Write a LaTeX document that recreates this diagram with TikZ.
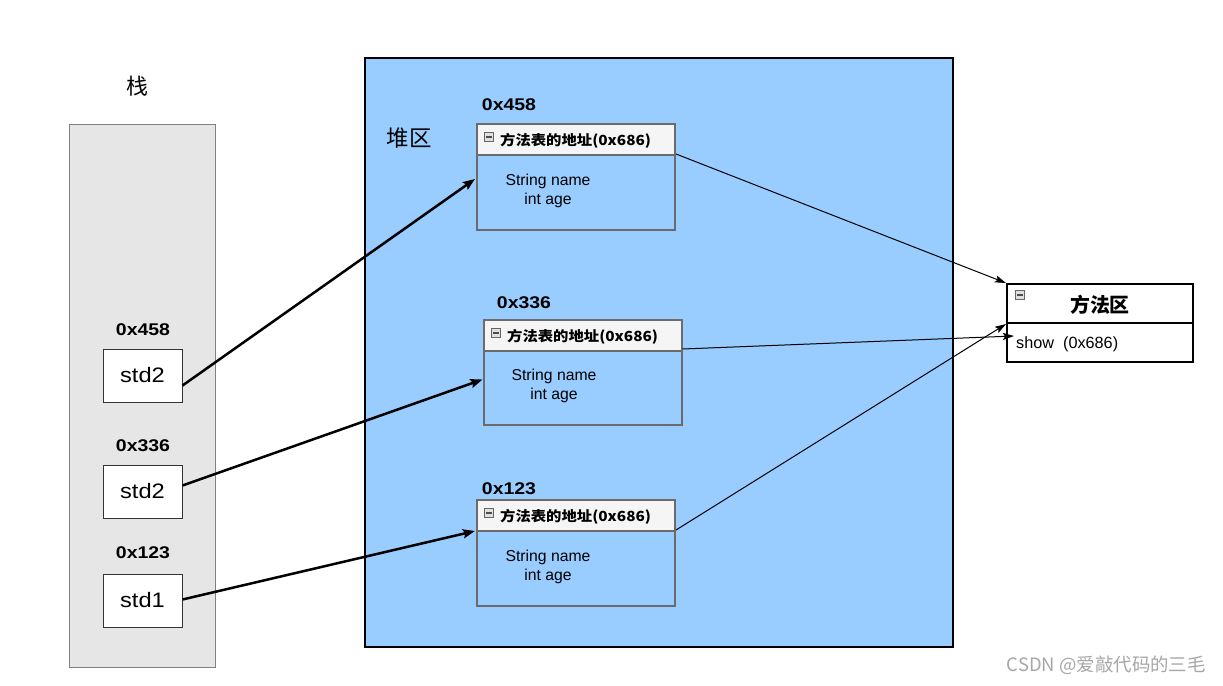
\documentclass[tikz,border=0pt]{standalone}
\usepackage{fontspec}
\setmainfont{Liberation Sans}
\newfontfamily\cjk{Noto Sans CJK SC}
\usetikzlibrary{arrows.meta,calc}
\definecolor{heapblue}{HTML}{99CCFF}
\definecolor{stackgray}{HTML}{E6E6E6}
\definecolor{objgray}{HTML}{6B6B6B}
\definecolor{hdrgray}{HTML}{F5F5F5}
\newcommand{\wideit}[1]{\scalebox{1.15}[1]{#1}}
\tikzset{
  stdbox/.style={draw=black!80,fill=white,line width=1bp,minimum width=79bp,minimum height=53bp,inner sep=0pt,font=\fontsize{21}{23}\selectfont},
  addr/.style={font=\bfseries\fontsize{17}{19}\selectfont},
  objhdr/.style={draw=objgray,fill=hdrgray,line width=2bp,minimum width=198bp,minimum height=31bp,inner sep=0pt},
  objbody/.style={draw=objgray,fill=heapblue,line width=2bp,minimum width=198bp,minimum height=75bp,inner sep=0pt},
  hdrtxt/.style={font=\bfseries\cjk\fontsize{14}{16}\selectfont,anchor=west,inner sep=0pt},
  bodytxt/.style={font=\fontsize{15.8}{18}\selectfont,inner sep=0pt},
  minus/.style={draw=gray!80!black,fill=gray!25,minimum width=9bp,minimum height=9bp,inner sep=0pt,line width=0.6bp,
    path picture={\draw[black!70,line width=1.4bp] ([xshift=1.5bp]path picture bounding box.west) -- ([xshift=-1.5bp]path picture bounding box.east);}},
  bigarrow/.style={-{Stealth[length=12bp,width=9bp,inset=2bp]},line width=2.5bp},
  thinarrow/.style={-{Stealth[length=11bp,width=7bp,inset=2bp]},line width=1bp},
}
\begin{document}
\begin{tikzpicture}[x=1bp,y=-1bp]
\useasboundingbox (0,0) rectangle (1223,686);
% stack
\node[font=\cjk\fontsize{22}{24}\selectfont] (stacklbl) at (137,86) {栈};
\node[draw=gray,fill=stackgray,line width=1bp,minimum width=145bp,minimum height=542bp,inner sep=0pt] (stack) at (142.5,396) {};
\node[addr] (a1) at (143,330) {\wideit{0x458}};
\node[stdbox] (s1) at (142.5,375.5) {\scalebox{1.13}[1]{std2}};
\node[addr] (a2) at (143,446) {\wideit{0x336}};
\node[stdbox] (s2) at (142.5,491.5) {\scalebox{1.13}[1]{std2}};
\node[addr] (a3) at (143,553) {\wideit{0x123}};
\node[stdbox] (s3) at (142.5,600.5) {\scalebox{1.13}[1]{std1}};
% heap
\node[draw=black,fill=heapblue,line width=2bp,minimum width=588bp,minimum height=589bp,inner sep=0pt] (heap) at (659,352.5) {};
\node[font=\cjk\fontsize{22.5}{24}\selectfont] (heaplbl) at (409,138) {堆区};
% object 1
\node[addr] (o1a) at (509,105) {\wideit{0x458}};
\node[objbody] (o1b) at (576,192) {};
\node[objhdr] (o1h) at (576,139.5) {};
\node[minus] (o1m) at (489,137) {};
\node[hdrtxt] (o1t) at (500,141) {\scalebox{1.1}[1]{方法表的地址(0x686)}};
\node[bodytxt] (o1s) at (548,181) {String name};
\node[bodytxt] (o1i) at (548,200) {int age};
% object 2
\node[addr] (o2a) at (524,303) {\wideit{0x336}};
\node[objbody] (o2b) at (582.5,387.5) {};
\node[objhdr] (o2h) at (582.5,335.5) {};
\node[minus] (o2m) at (496,333) {};
\node[hdrtxt] (o2t) at (507,337) {\scalebox{1.1}[1]{方法表的地址(0x686)}};
\node[bodytxt] (o2s) at (554,376) {String name};
\node[bodytxt] (o2i) at (554,395) {int age};
% object 3
\node[addr] (o3a) at (509,489) {\wideit{0x123}};
\node[objbody] (o3b) at (576,568) {};
\node[objhdr] (o3h) at (576,515.5) {};
\node[minus] (o3m) at (489,513) {};
\node[hdrtxt] (o3t) at (500,517) {\scalebox{1.1}[1]{方法表的地址(0x686)}};
\node[bodytxt] (o3s) at (548,557) {String name};
\node[bodytxt] (o3i) at (548,576) {int age};
% method area
\node[draw=black,fill=white,line width=2bp,minimum width=186bp,minimum height=39bp,inner sep=0pt] (mbody) at (1100,342.5) {};
\node[draw=black,fill=white,line width=2bp,minimum width=186bp,minimum height=39bp,inner sep=0pt] (mhdr) at (1100,303.5) {};
\node[minus] (mm) at (1020,295) {};
\node[font=\bfseries\cjk\fontsize{20}{22}\selectfont] (mtitle) at (1100,305) {方法区};
\node[font=\fontsize{16.3}{18}\selectfont,anchor=west,inner sep=0pt] (mshow) at (1016,344) {show\ \ (0x686)};
% arrows
\draw[bigarrow] ($(s1.east)+(0,10)$) -- ($(o1b.west)+(-1,-13)$);
\draw[bigarrow] ($(s2.east)+(0,-6)$) -- ($(o2b.west)+(0,-8)$);
\draw[bigarrow] ($(s3.east)+(0,-1)$) -- ($(o3h.south west)+(-1,-1)$);
\draw[thinarrow] ($(o1h.south east)+(0,-2)$) -- (mhdr.north west);
\draw[thinarrow] ($(o2h.south east)+(0,-3)$) -- ($(mbody.north west)+(8,14)$);
\draw[thinarrow] ($(o3h.south east)+(0,-2)$) -- ($(mhdr.south west)$);
% watermark
\node[font=\cjk\fontsize{18.5}{20}\selectfont,text=gray!70,anchor=east,inner sep=0pt] (wm) at (1206,665) {CSDN @爱敲代码的三毛};
\end{tikzpicture}
\end{document}
